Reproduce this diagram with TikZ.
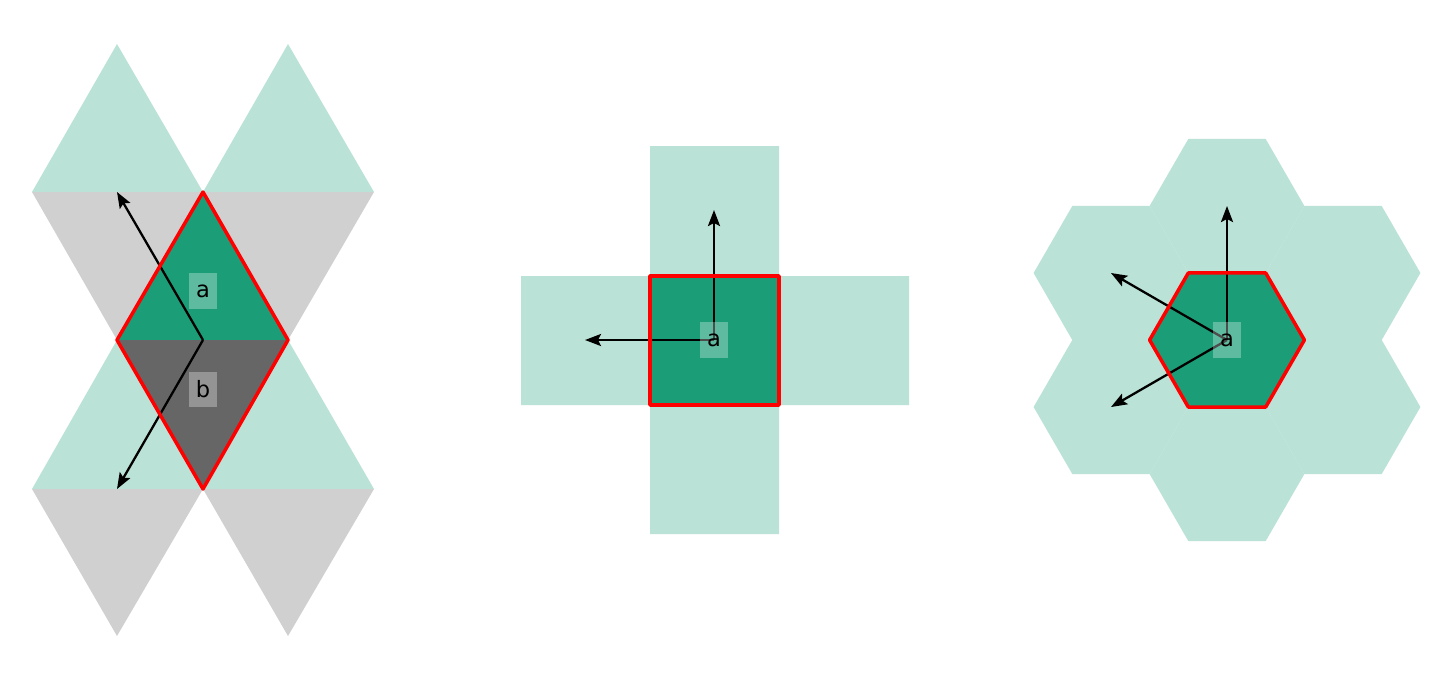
\documentclass[tikz,border=0pt]{standalone}
\usepackage{fontspec}
\setmainfont{DejaVu Sans}
\usepackage{tikz}
\usetikzlibrary{arrows.meta}
\definecolor{tealdark}{HTML}{1B9E77}
\definecolor{teallight}{HTML}{BBE2D6}
\definecolor{graylight}{HTML}{D0D0D0}
\definecolor{graydark}{HTML}{666666}

\begin{document}
\begin{tikzpicture}[x=0.01cm,y=-0.01cm,>={Stealth[length=0.16cm,width=0.12cm,inset=0.03cm]},
  vec/.style={->,line width=0.65pt},
  cell/.style={draw=red,line width=1pt,line join=round},
  lbl/.style={fill=white,fill opacity=0.3,text opacity=1,inner sep=0pt,
    minimum width=0.28cm,minimum height=0.35cm,font=\fontsize{6.4pt}{7pt}\selectfont}]
\useasboundingbox (0,0) rectangle (1454,681);
% triangles
\fill[teallight](32,192)--(117,44)--(203,192)--cycle
(203,192)--(288,44)--(374,192)--cycle
(32,489)--(117,340)--(203,489)--cycle
(203,489)--(288,340)--(374,489)--cycle;
\fill[graylight](32,192)--(203,192)--(117,340)--cycle
(203,192)--(374,192)--(288,340)--cycle
(32,489)--(203,489)--(117,636)--cycle
(203,489)--(374,489)--(288,636)--cycle;
\fill[tealdark](117,340)--(203,192)--(288,340)--cycle;
\fill[graydark](117,340)--(288,340)--(203,489)--cycle;
\coordinate (o1) at (203,340);
\coordinate (e11) at (117,192);
\coordinate (e12) at (117,489);
\draw[vec](o1)--(e11);
\draw[vec](o1)--(e12);
\draw[cell](203,192)--(288,340)--(203,489)--(117,340)--cycle;
\node[lbl] (la) at (203,291) {a};
\node[lbl] (lb) at (203,389) {b};
% squares
\fill[teallight](650,146) rectangle (779,534)
(521,276) rectangle (909,405);
\fill[tealdark](650,276) rectangle (779,405);
\coordinate (o2) at (714,340);
\coordinate (e21) at (714,210);
\coordinate (e22) at (585,340);
\draw[vec](o2)--(e21);
\draw[vec](o2)--(e22);
\draw[cell](650,276) rectangle (779,405);
\node[lbl] (lc) at (o2) {a};
% hexagons
\foreach \dx/\dy in {0/0,0/-134,0/134,116/-67,116/67,-116/-67,-116/67}
  \fill[teallight,shift={(1227+\dx,340+\dy)}](0:77.4)--(60:77.4)--(120:77.4)
  --(180:77.4)--(240:77.4)--(300:77.4)--cycle;
\fill[tealdark,shift={(1227,340)}](0:77.4)--(60:77.4)--(120:77.4)
  --(180:77.4)--(240:77.4)--(300:77.4)--cycle;
\coordinate (o3) at (1227,340);
\coordinate (e31) at (1227,206);
\coordinate (e32) at (1111,273);
\coordinate (e33) at (1111,407);
\draw[vec](o3)--(e31);
\draw[vec](o3)--(e32);
\draw[vec](o3)--(e33);
\draw[cell,shift={(1227,340)}](0:77.4)--(60:77.4)--(120:77.4)
  --(180:77.4)--(240:77.4)--(300:77.4)--cycle;
\node[lbl] (ld) at (o3) {a};
\end{tikzpicture}
\end{document}
